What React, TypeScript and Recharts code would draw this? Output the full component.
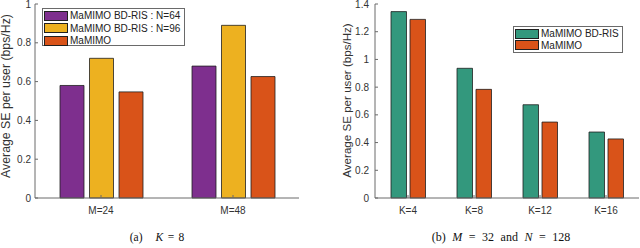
import React from 'react';
import { BarChart, Bar, XAxis, YAxis, Label } from 'recharts';

// ---- Left panel (a) K = 8 ----
const leftCategories = ['M=24', 'M=48'];
const leftBdrisN64 = [0.58, 0.68];
const leftBdrisN96 = [0.72, 0.89];
const leftMaMIMO = [0.547, 0.626];
const leftTicks = [0, 0.2, 0.4, 0.6, 0.8, 1];
const leftSeriesNames = ['MaMIMO BD-RIS : N=64', 'MaMIMO BD-RIS : N=96', 'MaMIMO'];
const leftColors = ['#7E2F8E', '#EDB120', '#D95319'];

// ---- Right panel (b) M = 32 and N = 128 ----
const rightCategories = ['K=4', 'K=8', 'K=12', 'K=16'];
const rightBdris = [1.345, 0.936, 0.673, 0.476];
const rightMaMIMO = [1.289, 0.784, 0.548, 0.426];
const rightTicks = [0, 0.2, 0.4, 0.6, 0.8, 1, 1.2, 1.4];
const rightSeriesNames = ['MaMIMO BD-RIS', 'MaMIMO'];
const rightColors = ['#33987D', '#D95319'];

const yLabelText = 'Average SE per user (bps/Hz)';

const leftData = leftCategories.map((c, i) => ({
  cat: c,
  s0: leftBdrisN64[i],
  s1: leftBdrisN96[i],
  s2: leftMaMIMO[i],
}));
const rightData = rightCategories.map((c, i) => ({
  cat: c,
  s0: rightBdris[i],
  s1: rightMaMIMO[i],
}));

const SANS = '"Liberation Sans", Arial, Helvetica, sans-serif';
const SERIF = '"Liberation Serif", "Times New Roman", serif';
const AXIS = '#6a6a6a';
const TEXT = '#333333';
const EDGE = '#202020';

function LegendBox(props: {
  left: number; top: number; width: number; height: number;
  names: string[]; colors: string[]; rowH: number; padTop: number;
}) {
  const { left, top, width, height, names, colors, rowH, padTop } = props;
  return (
    <div
      style={{
        position: 'absolute', left, top, width, height, boxSizing: 'border-box',
        border: '1px solid #6a6a6a', background: '#fff', fontFamily: SANS,
        fontSize: 10, color: '#222', paddingTop: padTop,
      }}
    >
      {names.map((n, i) => (
        <div key={n} style={{ height: rowH, display: 'flex', alignItems: 'center', whiteSpace: 'nowrap' }}>
          <div style={{ width: 24, height: 10, boxSizing: 'border-box', marginLeft: 1, marginRight: 2, background: colors[i], border: `1px solid ${EDGE}` }} />
          <span>{n}</span>
        </div>
      ))}
    </div>
  );
}

function YTitle(x: number, y: number, size: number) {
  return () => (
    <text
      x={x}
      y={y}
      transform={`rotate(-90 ${x} ${y})`}
      textAnchor="middle"
      fontFamily={SANS}
      fontSize={size}
      fill={TEXT}
    >
      {yLabelText}
    </text>
  );
}

export default function App() {
  const tickStyle = { fill: TEXT, fontSize: 10, fontFamily: SANS };
  return (
    <div style={{ position: 'absolute', left: 0, top: 0, width: 640, height: 248, background: '#fff' }}>
      <div style={{ position: 'absolute', left: 0, top: 0 }}>
        <BarChart
          width={320}
          height={248}
          data={leftData}
          margin={{ top: 4, right: 21, bottom: 20, left: 0 }}
          barSize={24}
          barGap={5.5}
        >
          <XAxis dataKey="cat" height={30} tickSize={-3} tickMargin={12} stroke={AXIS} tick={tickStyle} interval={0} />
          <XAxis xAxisId="t" dataKey="cat" orientation="top" height={0} tickSize={-3} tick={false} stroke={AXIS} />
          <YAxis width={35} domain={[0, 1]} ticks={leftTicks} tickSize={-3} tickMargin={7} stroke={AXIS} tick={tickStyle} interval={0}>
            <Label content={YTitle(9.5, 96, 12.3)} />
          </YAxis>
          <YAxis yAxisId="r" orientation="right" width={0} domain={[0, 1]} ticks={leftTicks} tickSize={-3} tick={false} stroke={AXIS} />
          <Bar dataKey="s0" fill={leftColors[0]} stroke={EDGE} strokeWidth={0.8} isAnimationActive={false} />
          <Bar dataKey="s1" fill={leftColors[1]} stroke={EDGE} strokeWidth={0.8} isAnimationActive={false} />
          <Bar dataKey="s2" fill={leftColors[2]} stroke={EDGE} strokeWidth={0.8} isAnimationActive={false} />
        </BarChart>
      </div>
      <div style={{ position: 'absolute', left: 320, top: 0 }}>
        <BarChart
          width={320}
          height={248}
          data={rightData}
          margin={{ top: 4, right: 1, bottom: 20, left: 0 }}
          barSize={15.5}
          barGap={3.5}
        >
          <XAxis dataKey="cat" height={30} tickSize={-3} tickMargin={12} stroke={AXIS} tick={tickStyle} interval={0} />
          <XAxis xAxisId="t" dataKey="cat" orientation="top" height={0} tickSize={-3} tick={false} stroke={AXIS} />
          <YAxis width={55} domain={[0, 1.4]} ticks={rightTicks} tickSize={-3} tickMargin={9} stroke={AXIS} tick={tickStyle} interval={0}>
            <Label content={YTitle(30.5, 100.5, 11.6)} />
          </YAxis>
          <YAxis yAxisId="r" orientation="right" width={0} domain={[0, 1.4]} ticks={rightTicks} tickSize={-3} tick={false} stroke={AXIS} />
          <Bar dataKey="s0" fill={rightColors[0]} stroke={EDGE} strokeWidth={0.8} isAnimationActive={false} />
          <Bar dataKey="s1" fill={rightColors[1]} stroke={EDGE} strokeWidth={0.8} isAnimationActive={false} />
        </BarChart>
      </div>
      <LegendBox left={42} top={8} width={143} height={38} names={leftSeriesNames} colors={leftColors} rowH={12.5} padTop={0.5} />
      <LegendBox left={513} top={26} width={110} height={27} names={rightSeriesNames} colors={rightColors} rowH={11.5} padTop={1} />
      <div style={{ position: 'absolute', left: 57, top: 231, width: 200, textAlign: 'center', fontFamily: SERIF, fontSize: 11.5, color: '#111', lineHeight: '13px', whiteSpace: 'nowrap', wordSpacing: 1.5 }}>
        (a)&nbsp;&nbsp; <i>K</i> = 8
      </div>
      <div style={{ position: 'absolute', left: 351, top: 231, width: 300, textAlign: 'center', fontFamily: SERIF, fontSize: 12, color: '#111', lineHeight: '13px', whiteSpace: 'nowrap', wordSpacing: 3.5 }}>
        (b) <i>M</i> = 32 and <i>N</i> = 128
      </div>
    </div>
  );
}
